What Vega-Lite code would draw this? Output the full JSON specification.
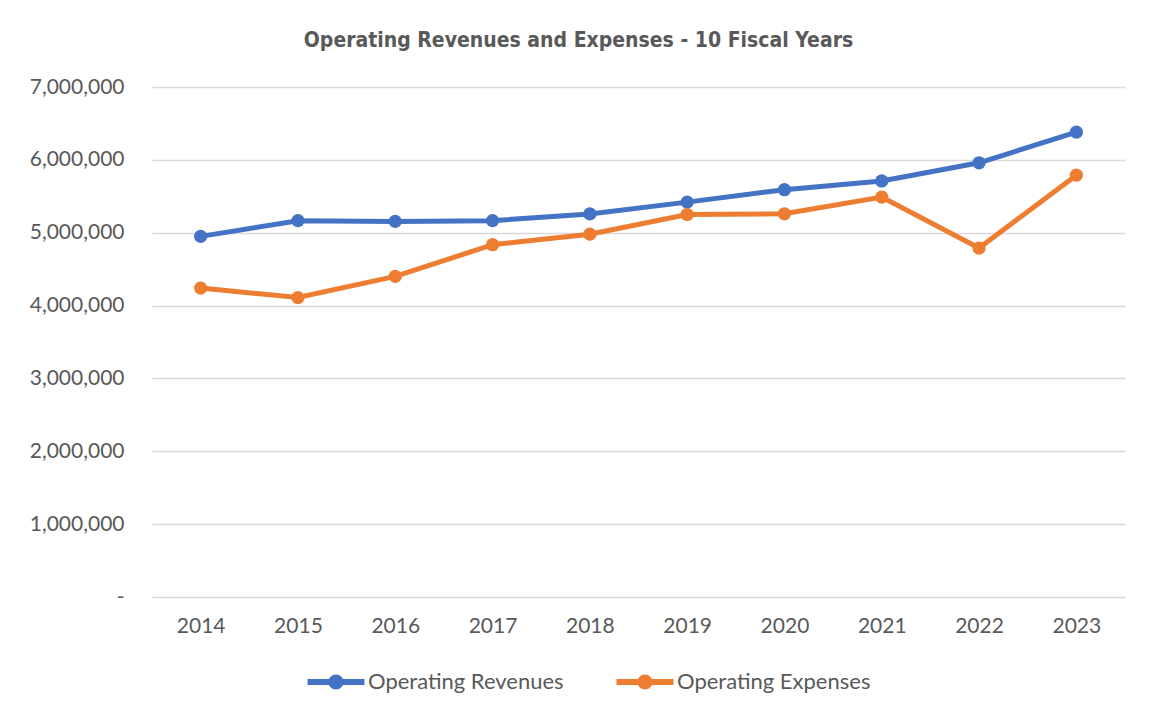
{
  "$schema": "https://vega.github.io/schema/vega-lite/v6.json",
  "width": 973,
  "height": 510,
  "autosize": {"type": "none"},
  "padding": {"left": 152, "top": 87, "right": 26, "bottom": 122},
  "background": "white",
  "config": {
    "view": {"stroke": null},
    "font": "Lato"
  },
  "title": {
    "text": "Operating Revenues and Expenses - 10 Fiscal Years",
    "font": "DejaVu Sans Condensed, Liberation Sans",
    "fontWeight": "bold",
    "fontSize": 21,
    "color": "#595959",
    "anchor": "middle",
    "dx": -60,
    "offset": 25
  },
  "data": {
    "values": [
      {"year": "2014", "series": "Operating Revenues", "value": 4950000},
      {"year": "2015", "series": "Operating Revenues", "value": 5165000},
      {"year": "2016", "series": "Operating Revenues", "value": 5155000},
      {"year": "2017", "series": "Operating Revenues", "value": 5165000},
      {"year": "2018", "series": "Operating Revenues", "value": 5258000},
      {"year": "2019", "series": "Operating Revenues", "value": 5420000},
      {"year": "2020", "series": "Operating Revenues", "value": 5590000},
      {"year": "2021", "series": "Operating Revenues", "value": 5710000},
      {"year": "2022", "series": "Operating Revenues", "value": 5960000},
      {"year": "2023", "series": "Operating Revenues", "value": 6380000},
      {"year": "2014", "series": "Operating Expenses", "value": 4240000},
      {"year": "2015", "series": "Operating Expenses", "value": 4110000},
      {"year": "2016", "series": "Operating Expenses", "value": 4400000},
      {"year": "2017", "series": "Operating Expenses", "value": 4835000},
      {"year": "2018", "series": "Operating Expenses", "value": 4980000},
      {"year": "2019", "series": "Operating Expenses", "value": 5250000},
      {"year": "2020", "series": "Operating Expenses", "value": 5260000},
      {"year": "2021", "series": "Operating Expenses", "value": 5490000},
      {"year": "2022", "series": "Operating Expenses", "value": 4790000},
      {"year": "2023", "series": "Operating Expenses", "value": 5790000}
    ]
  },
  "mark": {
    "type": "line",
    "strokeWidth": 5,
    "point": {"filled": true, "size": 175, "opacity": 1}
  },
  "encoding": {
    "x": {
      "field": "year",
      "type": "ordinal",
      "title": null,
      "scale": {"type": "point", "padding": 0.5},
      "axis": {
        "labelAngle": 0,
        "labelFontSize": 21,
        "labelColor": "#595959",
        "labelPadding": 18,
        "ticks": false,
        "domain": false,
        "grid": false
      }
    },
    "y": {
      "field": "value",
      "type": "quantitative",
      "title": null,
      "scale": {"domain": [0, 7000000], "nice": false},
      "axis": {
        "values": [0, 1000000, 2000000, 3000000, 4000000, 5000000, 6000000, 7000000],
        "labelExpr": "datum.value == 0 ? '-' : format(datum.value, ',')",
        "labelFontSize": 21,
        "labelColor": "#595959",
        "labelPadding": 28,
        "ticks": false,
        "domain": false,
        "grid": true,
        "gridColor": "#D9D9D9",
        "gridWidth": 1.5
      }
    },
    "color": {
      "field": "series",
      "type": "nominal",
      "title": null,
      "sort": ["Operating Revenues", "Operating Expenses"],
      "scale": {
        "domain": ["Operating Revenues", "Operating Expenses"],
        "range": ["#4472C4", "#ED7D31"]
      },
      "legend": {
        "orient": "none",
        "legendX": 168,
        "legendY": 579,
        "direction": "horizontal",
        "labelFontSize": 22,
        "labelColor": "#595959",
        "labelOffset": 16,
        "labelLimit": 400,
        "columnPadding": 52,
        "symbolSize": 1024,
        "symbolType": "M-1.78,-0.18L1.78,-0.18L1.78,0.18L-1.78,0.18Z M-0.47,0A0.47,0.47 0 1,1 0.47,0A0.47,0.47 0 1,1 -0.47,0Z",
        "symbolStrokeWidth": 0,
        "encode": {
          "symbols": {
            "update": {
              "fill": {"scale": "color", "field": "value"},
              "size": {"value": 1024},
              "strokeWidth": {"value": 0},
              "opacity": {"value": 1}
            }
          }
        }
      }
    }
  }
}
